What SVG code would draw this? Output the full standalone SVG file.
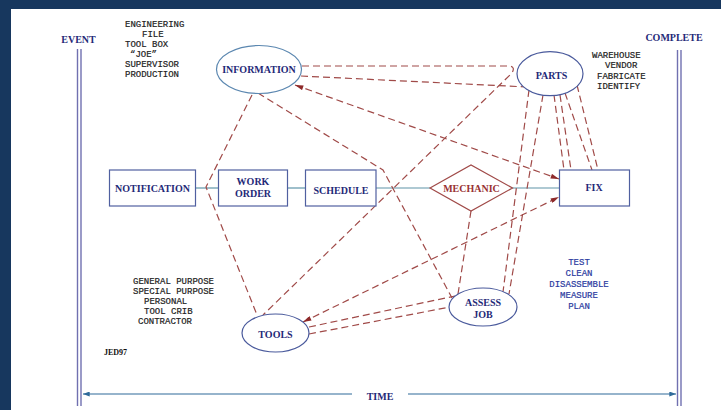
<svg xmlns="http://www.w3.org/2000/svg" width="721" height="410" viewBox="0 0 721 410">
<style>
.node text{font-family:"Liberation Serif",serif;font-weight:bold;font-size:10px;fill:#1f2a78;text-anchor:middle}
.box{fill:#fff;stroke:#5060a0;stroke-width:1.2}
.ell{fill:#fff;stroke:#4a5a9c;stroke-width:1.2}
.dash{fill:none;stroke:#a04a48;stroke-width:1.2;stroke-dasharray:7 4}
.solid{fill:none;stroke:#5e94a8;stroke-width:1.2}
.mono{font-family:"Liberation Mono",monospace;font-size:9px;fill:#222;stroke:#222;stroke-width:0.2}
.monob{font-family:"Liberation Mono",monospace;font-size:9px;fill:#2b3aa0;stroke:#2b3aa0;stroke-width:0.2;text-anchor:middle}
.lbl{font-family:"Liberation Serif",serif;font-weight:bold;font-size:10px;fill:#1f2a78}
.dbl{stroke:#7070b0;stroke-width:1.4}
</style>
<defs>
<marker id="ah" viewBox="0 0 10 6" refX="10" refY="3" markerWidth="10" markerHeight="5" markerUnits="userSpaceOnUse" orient="auto-start-reverse">
<path d="M0,0 L10,3 L0,6 z" fill="#8e2a2a"/>
</marker>
<marker id="bh" viewBox="0 0 8 6" refX="8" refY="3" markerWidth="7" markerHeight="5" markerUnits="userSpaceOnUse" orient="auto">
<path d="M0,0 L8,3 L0,6 z" fill="#2f6a9a"/>
</marker>
</defs>
<rect x="0" y="0" width="721" height="410" fill="#fff"/>
<rect x="0" y="0" width="721" height="9" fill="#17375e"/>
<rect x="0" y="0" width="11" height="410" fill="#17375e"/>

<g id="timeline">
<line class="dbl" x1="77.5" y1="49" x2="77.5" y2="406"/>
<line class="dbl" x1="81" y1="49" x2="81" y2="406"/>
<line class="dbl" x1="677.5" y1="50" x2="677.5" y2="406"/>
<line class="dbl" x1="681" y1="50" x2="681" y2="406"/>
<text class="lbl" x="78.5" y="43" text-anchor="middle">EVENT</text>
<text class="lbl" x="674" y="40.5" text-anchor="middle">COMPLETE</text>
<line x1="352" y1="394" x2="83" y2="394" stroke="#2f6a9a" stroke-width="1.2" marker-end="url(#bh)"/>
<line x1="408" y1="394" x2="676" y2="394" stroke="#2f6a9a" stroke-width="1.2" marker-end="url(#bh)"/>
<text class="lbl" x="380" y="400" text-anchor="middle">TIME</text>
</g>

<g id="notes">
<text class="mono" x="125" y="26.5">ENGINEERING</text>
<text class="mono" x="142" y="36.6">FILE</text>
<text class="mono" x="125" y="46.7">TOOL BOX</text>
<text class="mono" x="130" y="56.8">“JOE”</text>
<text class="mono" x="125" y="66.9">SUPERVISOR</text>
<text class="mono" x="125" y="77">PRODUCTION</text>
<text class="mono" x="592" y="58">WAREHOUSE</text>
<text class="mono" x="605" y="68.3">VENDOR</text>
<text class="mono" x="597" y="78.6">FABRICATE</text>
<text class="mono" x="597" y="89">IDENTIFY</text>
<text class="mono" x="133" y="283.5">GENERAL PURPOSE</text>
<text class="mono" x="133" y="293.7">SPECIAL PURPOSE</text>
<text class="mono" x="144" y="303.9">PERSONAL</text>
<text class="mono" x="144" y="314.1">TOOL CRIB</text>
<text class="mono" x="138" y="324.3">CONTRACTOR</text>
<text class="monob" x="579" y="264.5">TEST</text>
<text class="monob" x="579" y="275.5">CLEAN</text>
<text class="monob" x="579" y="286.7">DISASSEMBLE</text>
<text class="monob" x="579" y="297.9">MEASURE</text>
<text class="monob" x="579" y="309.2">PLAN</text>
<text x="104" y="355" font-family="Liberation Serif,serif" font-weight="bold" font-size="8" fill="#111">JED97</text>
</g>

<g id="connectors">
<line class="solid" x1="196" y1="188" x2="218" y2="188"/>
<line class="solid" x1="288" y1="188" x2="305" y2="188"/>
<line class="solid" x1="376" y1="188" x2="430" y2="188"/>
<line class="solid" x1="512" y1="188" x2="559" y2="188"/>
<path class="dash" d="M302,66 L508,66 Q516,66 512,73 L263,315"/>
<path class="dash" d="M301,76 L527,87"/>
<path class="dash" d="M529,90 L503,292"/>
<path class="dash" d="M543,95 L509,294"/>
<path class="dash" d="M554,95 L564,170"/>
<path class="dash" d="M560,95 L571,170"/>
<path class="dash" d="M565,93 L592,170"/>
<path class="dash" d="M577,85 L598,170"/>
<path class="dash" d="M295,85 L559,179" marker-start="url(#ah)" marker-end="url(#ah)"/>
<path class="dash" d="M303,322 L559,197" marker-start="url(#ah)" marker-end="url(#ah)"/>
<path class="dash" d="M252,95 L206,187 L257,315"/>
<path class="dash" d="M258,93 L383,170 L452,298"/>
<path class="dash" d="M471,211 L458,294"/>
<path class="dash" d="M309,327 L455,296"/>
<path class="dash" d="M309,334 L450,307"/>
</g>

<g id="information" class="node">
<ellipse cx="259" cy="69.5" rx="42.5" ry="24" fill="#fff" stroke="#5b87b0" stroke-width="1.2"/>
<text x="259" y="73">INFORMATION</text>
</g>
<g id="parts" class="node">
<ellipse class="ell" cx="550" cy="73.7" rx="33" ry="22" stroke="#3f4f9f"/>
<text x="551.5" y="78.5">PARTS</text>
</g>
<g id="notification" class="node">
<rect class="box" x="109.5" y="170" width="86" height="36"/>
<text x="152.5" y="191.5">NOTIFICATION</text>
</g>
<g id="workorder" class="node">
<rect class="box" x="218.5" y="170" width="69" height="36"/>
<text x="253" y="185">WORK</text>
<text x="253" y="197">ORDER</text>
</g>
<g id="schedule" class="node">
<rect class="box" x="305.5" y="170" width="70.5" height="36"/>
<text x="341" y="194">SCHEDULE</text>
</g>
<g id="mechanic" class="node">
<polygon points="430,188 471,165 512.5,188 471,211" fill="#fff" stroke="#a04a48" stroke-width="1.2"/>
<text x="471.5" y="192" style="fill:#993333">MECHANIC</text>
</g>
<g id="fix" class="node">
<rect class="box" x="559.5" y="170" width="70" height="36"/>
<text x="594" y="190.5">FIX</text>
</g>
<g id="tools" class="node">
<ellipse class="ell" cx="275.5" cy="333" rx="33.5" ry="19"/>
<text x="275.5" y="338">TOOLS</text>
</g>
<g id="assessjob" class="node">
<ellipse class="ell" cx="483" cy="307" rx="34" ry="19"/>
<text x="483" y="306">ASSESS</text>
<text x="483" y="318">JOB</text>
</g>
</svg>
